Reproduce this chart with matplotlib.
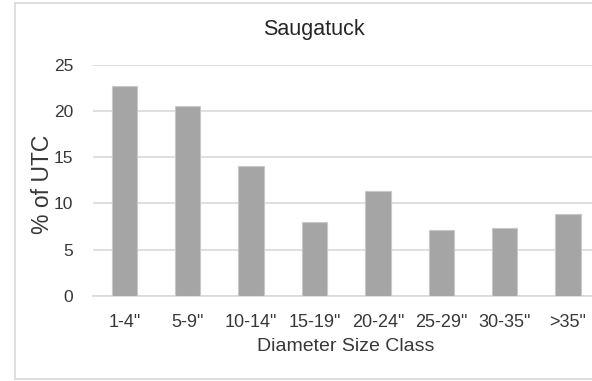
import matplotlib
matplotlib.use("Agg")
import matplotlib.pyplot as plt
from matplotlib.lines import Line2D

categories = ['1-4"', '5-9"', '10-14"', '15-19"', '20-24"', '25-29"', '30-35"', '>35"']
utc_pct = [22.7, 20.5, 14.0, 8.0, 11.4, 7.1, 7.3, 8.9]
y_ticks = [0, 5, 10, 15, 20, 25]

plt.rcParams['font.family'] = ['Liberation Sans', 'DejaVu Sans']
text_color = '#383838'

fig = plt.figure(figsize=(5.92, 3.81), dpi=100)
W, H = 592, 381

# plot area in pixel units
left, right, bottom, top = 92.6, 599.7, 296.0, 64.7
ax = fig.add_axes([left / W, 1 - bottom / H, (right - left) / W, (bottom - top) / H])

x = range(len(categories))
ax.bar(x, utc_pct, width=0.4, color='#a5a5a5', edgecolor='#c8c8c8', linewidth=0.8, zorder=3)

ax.set_xlim(-0.5, len(categories) - 0.5)
ax.set_ylim(0, 25)
ax.set_yticks(y_ticks)
ax.set_xticks(list(x))
ax.set_xticklabels(categories)
ax.yaxis.grid(True, color='#d9d9d9', linewidth=1.2, zorder=0)
ax.set_axisbelow(True)
for s in ['top', 'right', 'left']:
    ax.spines[s].set_visible(False)
ax.spines['bottom'].set_color('#d9d9d9')
ax.spines['bottom'].set_linewidth(1.2)
ax.tick_params(axis='both', length=0, colors=text_color)
ax.tick_params(axis='y', pad=14, labelsize=12.5)
ax.tick_params(axis='x', pad=13, labelsize=13)

ax.set_xlabel('Diameter Size Class', fontsize=14, color=text_color, labelpad=5)
fig.text(42.5 / W, 1 - 184 / H, '% of UTC', fontsize=16.5, color=text_color,
         rotation=90, ha='center', va='center')

fig.text(314 / W, 1 - 30 / H, 'Saugatuck', fontsize=15.5, color='#262626',
         ha='center', va='center')

# chart frame (left, top and bottom edges)
fx0 = 14.5 / W
fy0 = 1 - 378.5 / H
fy1 = 1 - 2.5 / H
frame_kw = dict(color='#d9d9d9', linewidth=1.2, transform=fig.transFigure)
fig.add_artist(Line2D([fx0, 1.0], [fy1, fy1], **frame_kw))
fig.add_artist(Line2D([fx0, 1.0], [fy0, fy0], **frame_kw))
fig.add_artist(Line2D([fx0, fx0], [fy0, fy1], **frame_kw))

fig.savefig('out.png', dpi=100, facecolor='white')
